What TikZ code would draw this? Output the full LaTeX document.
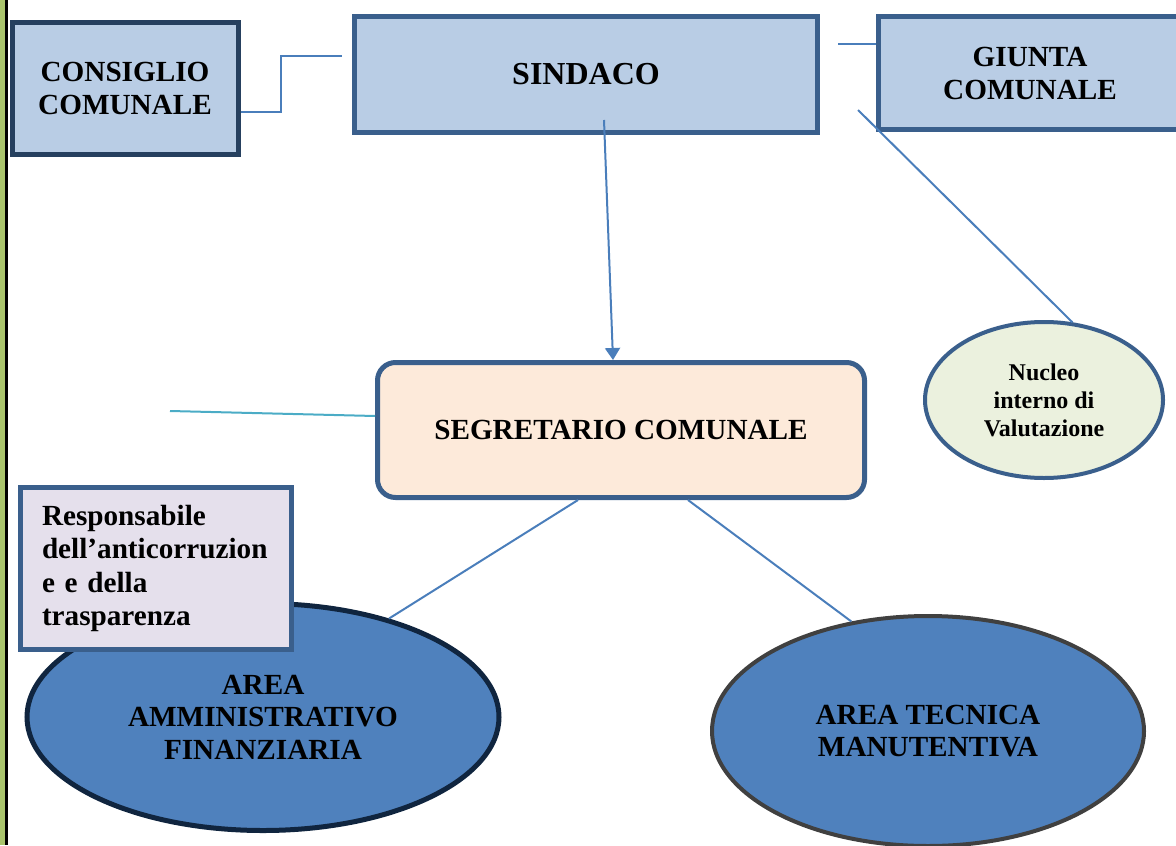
\documentclass[tikz,border=0pt]{standalone}
\usepackage{fontspec}
\setmainfont{Liberation Serif}
\usepackage{xcolor}
\usetikzlibrary{arrows.meta, positioning, shapes.geometric, calc}

\definecolor{boxblue}{HTML}{B9CDE5}
\definecolor{edgeblue}{HTML}{3A5F8C}
\definecolor{edgenavy}{HTML}{26405F}
\definecolor{segfill}{HTML}{FDEADA}
\definecolor{nucfill}{HTML}{EBF1DE}
\definecolor{respfill}{HTML}{E5E0EC}
\definecolor{areablue}{HTML}{4F81BD}
\definecolor{areanavy}{HTML}{10253F}
\definecolor{areagray}{HTML}{404040}
\definecolor{linkblue}{HTML}{4A7EBB}
\definecolor{linkteal}{HTML}{4BACC6}
\definecolor{barcol}{HTML}{A9C46C}

\begin{document}
\begin{tikzpicture}[x=0.5pt, y=-0.5pt,
    box/.style={draw=edgeblue, line width=2.5pt, fill=boxblue, inner sep=0pt, align=center, font=\bfseries\fontsize{14.6}{16.5}\selectfont},
    area/.style={ellipse, draw, line width=2.5pt, fill=areablue, inner sep=0pt, align=center, font=\bfseries\fontsize{14.6}{16.2}\selectfont},
    link/.style={draw=linkblue, line width=1pt},
    arr/.style={link, -{Triangle[length=6pt, width=7.5pt]}},
    >=Triangle
]
\clip (0,0) rectangle (1176,845);

% Page margin bar
\fill[barcol] (0,0) rectangle (5,845);
\fill[black] (5,0) rectangle (7.5,845);

% Top row
\node[box, draw=edgenavy, minimum width=113pt, minimum height=66pt] (consiglio) at (125,88.5) {CONSIGLIO\\COMUNALE};
\node[box, minimum width=231.5pt, minimum height=58pt, font=\bfseries\fontsize{16}{18}\selectfont] (sindaco) at (586,74.5) {SINDACO};
\node[box, minimum width=151.5pt, minimum height=56.5pt] (giunta) at (1030,73) {GIUNTA\\COMUNALE};

% Segretario
\node[box, fill=segfill, rounded corners=9pt, minimum width=243.5pt, minimum height=67.5pt] (segretario) at (621,430) {SEGRETARIO COMUNALE};

% Nucleo
\node[ellipse, draw=edgeblue, line width=2pt, fill=nucfill, inner sep=0pt, minimum width=119pt, minimum height=78pt, align=center, font=\bfseries\fontsize{12}{14}\selectfont] (nucleo) at (1044,400) {Nucleo\\interno di\\Valutazione};

% Aree
\node[area, draw=areanavy, minimum width=236pt, minimum height=113.5pt] (areaamm) at (263,717) {AREA\\AMMINISTRATIVO\\FINANZIARIA};
\node[area, draw=areagray, line width=2pt, minimum width=216pt, minimum height=115pt] (areatec) at (928,731) {AREA TECNICA\\MANUTENTIVA};

% Responsabile
\node[box, fill=respfill, minimum width=135.5pt, minimum height=81pt, text width=114pt, align=left, font=\bfseries\fontsize{14.6}{16.6}\selectfont] (resp) at (156,568.5) {Responsabile\\dell’anticorruzion\\e e della\\trasparenza};

% Connectors
\coordinate (sinL) at (342,56);
\coordinate (sinR) at (838,44);
\coordinate (sinB) at (604,120);
\coordinate (sinD) at (858,110);
\coordinate (segL) at (170,411);

\draw[link] ([yshift=-11.75pt]consiglio.east) -- ++(40,0) |- (sinL);
\draw[link] (sinR) -- (giunta.west |- sinR);
\draw[arr] (sinB) -- ([xshift=-4pt]segretario.north);
\draw[link] (sinD) -- (nucleo.70);
\draw[linkteal, line width=1pt] (segL) -- ([yshift=7pt]segretario.west);
\draw[link] ([xshift=-21.5pt]segretario.south) -- (areaamm.38);
\draw[link] ([xshift=33.5pt]segretario.south) -- (areatec.125);

\end{tikzpicture}
\end{document}
